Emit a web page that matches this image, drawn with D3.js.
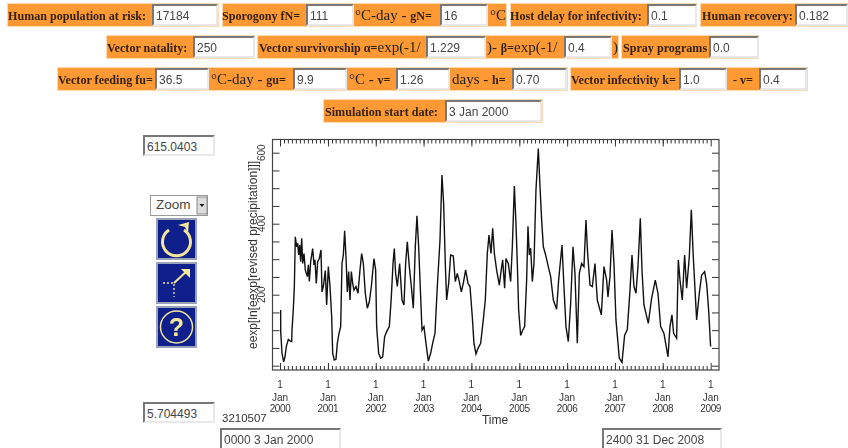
<!DOCTYPE html>
<html lang="en">
<head>
<meta charset="UTF-8">
<title>Simulation</title>
<script src="https://cdn.jsdelivr.net/npm/d3@7"></script>
<style>
  html, body { margin: 0; padding: 0; background: #fff; overflow: hidden; }
  #page { position: relative; width: 848px; height: 448px; overflow: hidden; filter: blur(0.45px); }
  .orange { position: absolute; background: #ff9933; box-shadow: 0 0 0 1px #fbd9b4 inset; }
  .lab { position: absolute; white-space: pre; font-family: "Liberation Serif", serif; color: #222; font-size: 15px; line-height: 24px; height: 24px; }
  .lab b { font-size: 12.1px; color: #332211; }
  .inp { position: absolute; box-sizing: border-box; background: #fff; border: 2px solid; border-color: #777 #e8e8e8 #e8e8e8 #777;
         font: 12px "Liberation Sans", sans-serif; color: #444; padding: 3px 0 0 2px; white-space: pre; }
  svg { position: absolute; left: 0; top: 0; }
  svg text { font-family: "Liberation Sans", sans-serif; fill: #333; }
</style>
</head>
<body>
<div id="page"></div>
<script>
// decimal years since 2000
var time = [0.014,0.015,0.042,0.077,0.104,0.132,0.174,0.209,0.244,0.251,0.279,0.300,0.320,0.348,0.369,0.390,0.411,0.432,0.453,0.474,0.502,0.529,0.571,0.592,0.613,0.641,0.683,0.711,0.731,0.759,0.787,0.822,0.857,0.878,0.906,0.947,0.975,
  1.010,1.045,1.080,1.101,1.135,1.170,1.198,1.233,1.268,1.296,1.324,1.351,1.379,1.407,1.435,1.463,1.491,1.519,1.546,1.588,1.630,1.672,1.707,1.742,1.783,1.825,1.867,1.909,1.964,1.999,
  2.020,2.062,2.104,2.146,2.187,2.229,2.285,2.327,2.362,2.389,2.417,2.452,2.501,2.550,2.591,2.626,2.661,2.703,2.745,2.786,2.828,2.863,2.898,2.940,2.968,
  3.009,3.051,3.100,3.149,3.190,3.239,3.288,3.344,3.385,3.420,3.455,3.483,3.525,3.567,3.622,3.664,3.706,3.748,3.790,3.831,3.880,3.929,3.971,
  4.019,4.054,4.096,4.138,4.194,4.249,4.291,4.333,4.368,4.410,4.445,4.480,4.528,4.584,4.633,4.654,4.695,4.723,4.772,4.821,4.856,4.898,4.932,4.960,4.988,
  5.030,5.072,5.113,5.155,5.183,5.211,5.239,5.274,5.308,5.350,5.399,5.434,5.469,5.504,5.552,5.608,5.657,5.713,5.782,5.824,5.894,5.935,5.977,
  6.026,6.075,6.124,6.165,6.214,6.256,6.305,6.353,6.395,6.430,6.479,6.528,6.583,6.632,6.716,6.771,6.827,6.855,6.897,6.939,6.980,
  7.022,7.092,7.148,7.203,7.259,7.315,7.357,7.398,7.440,7.482,7.531,7.566,7.607,7.698,7.767,7.844,7.900,7.956,
  8.025,8.109,8.151,8.192,8.227,8.290,8.325,8.360,8.408,8.457,8.499,8.555,8.597,8.638,8.708,8.764,8.812,8.875,8.917,8.959,9.000];
var precip = [157,96,35,11,25,54,74,70,68,100,161,222,363,335,345,312,340,293,359,288,316,269,251,284,237,293,330,284,298,232,293,302,326,208,223,268,171,
  279,223,138,35,16,18,63,91,110,288,312,380,307,208,265,185,265,232,213,223,204,270,316,288,204,162,180,223,302,270,
  110,35,21,25,82,96,110,194,288,330,260,223,288,185,171,288,349,279,223,162,335,422,335,194,100,
  110,63,13,35,63,91,223,354,537,457,288,185,232,312,309,237,260,237,208,232,270,232,223,
  138,63,33,49,63,129,185,316,368,316,387,316,269,227,279,298,218,302,288,237,335,506,401,288,157,
  85,100,110,241,393,312,331,237,288,495,612,504,410,335,312,279,251,185,159,241,340,223,110,
  68,176,335,260,63,260,288,279,410,316,227,223,288,185,143,279,241,194,251,382,288,
  129,21,9,86,102,213,312,223,204,279,415,269,171,119,190,241,204,110,
  91,25,110,143,91,77,298,241,185,312,218,307,439,307,129,204,255,265,232,157,54];
var yTicks = [200, 400, 600];
var yearStart = 2000, yearEnd = 2009;
var yLabel = "eexp[ln[eexp[revised precipitation]]]";
var xLabel = "Time";
var maxBox = "615.0403", minBox = "5.704493", stepCount = "3210507";
var startBox = "0000 3 Jan 2000", endBox = "2400 31 Dec 2008";

var page = d3.select("#page");

function orange(x0, x1, y) {
  page.append("div").attr("class", "orange")
    .style("left", x0 + "px").style("top", y + "px")
    .style("width", (x1 - x0) + "px").style("height", "24px");
}
function label(x, y, html) {
  page.append("div").attr("class", "lab")
    .style("left", x + "px").style("top", y + "px").html(html);
}
function input(x0, x1, y, val, h) {
  page.append("div").attr("class", "inp")
    .style("left", x0 + "px").style("top", y + "px")
    .style("width", (x1 - x0) + "px").style("height", (h || 22) + "px")
    .text(val);
}

// row 1
orange(7, 219, 3); orange(222, 507, 3); orange(510, 697, 3); orange(700, 848, 3);
label(8, 3, "<b>Human population at risk:</b>"); input(152, 218, 4, "17184");
label(222, 3, "<b>Sporogony fN=</b>"); input(306, 354, 4, "111");
label(355, 3, "°C-day - <b>gN=</b>"); input(440, 488, 4, "16");
label(490, 3, "°C");
label(510, 3, "<b>Host delay for infectivity:</b>"); input(647, 697, 4, "0.1");
label(702, 3, "<b>Human recovery:</b>"); input(795, 848, 4, "0.182");
// row 2
orange(106, 255, 35); orange(257, 619, 35); orange(621, 759, 35);
label(107, 35, "<b>Vector natality:</b>"); input(193, 255, 36, "250");
label(259, 35, "<b>Vector survivorship α=</b>exp(-1/"); input(426, 486, 36, "1.229");
label(487, 35, ")- <b>β=</b>exp(-1/"); input(564, 612, 36, "0.4");
label(613, 35, ")");
label(623, 35, "<b>Spray programs</b>"); input(709, 759, 36, "0.0");
// row 3
orange(57, 568, 67); orange(570, 808, 67);
label(58, 67, "<b>Vector feeding fu=</b>"); input(155, 209, 68, "36.5");
label(211, 67, "°C-day - <b>gu=</b>"); input(293, 347, 68, "9.9");
label(349, 67, "°C - <b>v=</b>"); input(396, 450, 68, "1.26");
label(452, 67, "days - <b>h=</b>"); input(512, 567, 68, "0.70");
label(571, 67, "<b>Vector infectivity k=</b>"); input(679, 727, 68, "1.0");
label(733, 67, "<b>- v=</b>"); input(759, 807, 68, "0.4");
// row 4
orange(323, 543, 99);
label(325, 99, "<b>Simulation start date:</b>"); input(445, 542, 100, "3 Jan 2000");

input(143, 215, 135, maxBox, 21);
input(143, 215, 402, minBox, 21);
input(220, 341, 428, startBox, 22);
input(602, 722, 428, endBox, 22);

// zoom select, under the svg so the arrow box shows
page.append("div").attr("class", "inp")
  .style("left", "150px").style("top", "195px").style("width", "58px").style("height", "21px")
  .style("font-size", "13.5px").style("padding", "1px 0 0 5px").style("border-width", "1px").style("border-color", "#999").text("Zoom");

var svg = page.append("svg").attr("width", 848).attr("height", 448);

// chart
var yearMs = 365.25 * 864e5, t0 = Date.UTC(2000, 0, 1);
var dates = time.map(function(t) { return new Date(t0 + t * yearMs); });
var frame = { left: 272.5, right: 719, top: 139.5, bottom: 370 };

var x = d3.scaleUtc()
  .domain([new Date(Date.UTC(yearStart, 0, 1)), new Date(Date.UTC(yearEnd, 0, 1))])
  .range([280, 710.7]);
var y = d3.scaleLinear().domain([0, 600]).range([365.7, 152.7]);

var years = d3.utcYear.range(x.domain()[0], new Date(Date.UTC(yearEnd, 0, 2)));
var months = d3.utcMonth.range(x.domain()[0], x.domain()[1]);
var yMinor = d3.range(0, 601, 50);

function xAxis(orient, at, vals, size) {
  return svg.append("g").attr("transform", "translate(0," + at + ")")
    .call(orient(x).tickValues(vals).tickSize(size).tickFormat(""));
}
xAxis(d3.axisTop, frame.bottom, months, 4);
xAxis(d3.axisTop, frame.bottom, years, 7);
xAxis(d3.axisBottom, frame.top, months, 4);
xAxis(d3.axisBottom, frame.top, years, 7);

svg.append("g").attr("transform", "translate(" + frame.left + ",0)")
  .call(d3.axisRight(y).tickValues(yMinor).tickSize(7).tickFormat(""));
svg.append("g").attr("transform", "translate(" + frame.right + ",0)")
  .call(d3.axisLeft(y).tickValues(yMinor).tickSize(7).tickFormat(""));
svg.selectAll(".domain").remove();
svg.selectAll(".tick line").attr("stroke", "#333");

svg.append("rect")
  .attr("x", frame.left).attr("y", frame.top)
  .attr("width", frame.right - frame.left).attr("height", frame.bottom - frame.top)
  .attr("fill", "none").attr("stroke", "#444").attr("stroke-width", 1.2);

var line = d3.line()
  .x(function(d, i) { return x(dates[i]); })
  .y(function(d) { return y(d); });
svg.append("path").datum(precip)
  .attr("d", line)
  .attr("fill", "none").attr("stroke", "#111").attr("stroke-width", 1.4);

// x labels, three lines each
var xlab = svg.selectAll(".xlab").data(years).enter().append("text")
  .attr("class", "xlab").attr("text-anchor", "middle").attr("font-size", 10);
xlab.append("tspan").attr("x", function(d) { return x(d); }).attr("y", 388).text("1");
xlab.append("tspan").attr("x", function(d) { return x(d); }).attr("y", 401).text("Jan");
xlab.append("tspan").attr("x", function(d) { return x(d); }).attr("y", 412).attr("letter-spacing", -0.4)
  .text(function(d) { return d.getUTCFullYear(); });

svg.append("text").attr("x", 495).attr("y", 424).attr("text-anchor", "middle").attr("font-size", 12).text(xLabel);
svg.append("text").attr("x", 222).attr("y", 422).attr("font-size", 11.5).text(stepCount);

// y labels are rotated
svg.selectAll(".ylab").data(yTicks).enter().append("text")
  .attr("class", "ylab").attr("text-anchor", "middle").attr("font-size", 10)
  .attr("transform", function(d) { return "translate(265," + y(d) + ") rotate(-90)"; })
  .text(function(d) { return d; });
svg.append("text").attr("text-anchor", "middle").attr("font-size", 12)
  .attr("transform", "translate(257,255) rotate(-90)").text(yLabel);

svg.append("rect").attr("x", 197).attr("y", 197).attr("width", 10).attr("height", 17).attr("fill", "#ddd").attr("stroke", "#888");
svg.append("path").attr("d", "M199.5 204h5l-2.5 3z").attr("fill", "#111");

// tool buttons
var buttons = [219, 263, 307];
svg.selectAll(".btn").data(buttons).enter().append("rect")
  .attr("class", "btn").attr("x", 157).attr("y", function(d) { return d; })
  .attr("width", 39).attr("height", 40)
  .attr("fill", "#0f1f8c").attr("stroke", "#9aa2b8").attr("stroke-width", 2);

var ic = "#f3e79a";
svg.append("path").attr("d", "M169 230 A14 14 0 1 0 184 230").attr("fill", "none").attr("stroke", ic).attr("stroke-width", 3);
svg.append("path").attr("d", "M178 225l11 -3 -1 11 -3 -6z").attr("fill", ic);

svg.append("path").attr("d", "M163 283h11v14").attr("fill", "none").attr("stroke", ic).attr("stroke-width", 1.3).attr("stroke-dasharray", "2 2");
svg.append("path").attr("d", "M174 283L188 270").attr("stroke", ic).attr("stroke-width", 2);
svg.append("path").attr("d", "M181 269h9v9z").attr("fill", ic);

svg.append("circle").attr("cx", 176.5).attr("cy", 327).attr("r", 16).attr("fill", "none").attr("stroke", ic).attr("stroke-width", 1.5);
svg.append("text").attr("x", 176.5).attr("y", 336).attr("text-anchor", "middle").attr("font-size", 25).attr("font-weight", "bold").style("fill", ic).text("?");
</script>
</body>
</html>
